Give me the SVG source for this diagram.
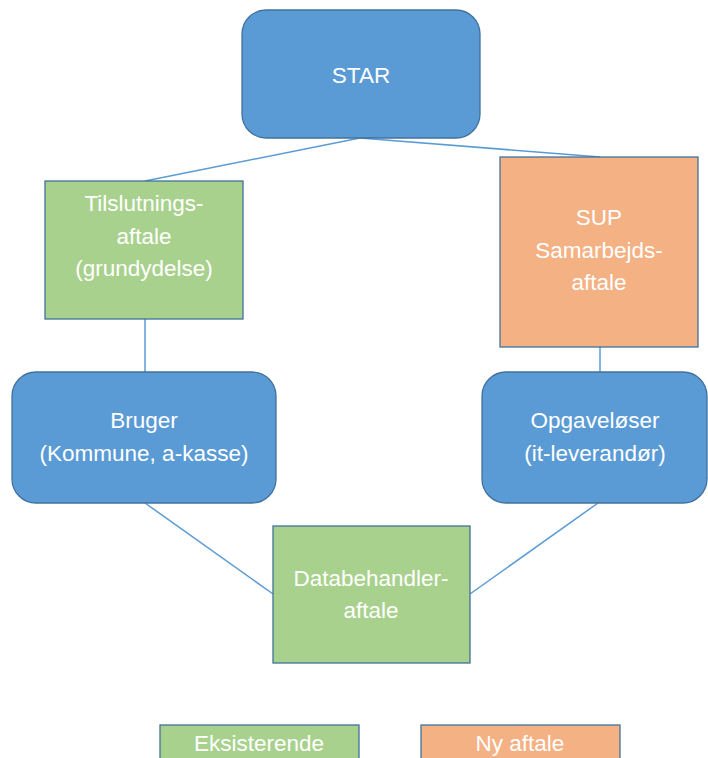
<svg xmlns="http://www.w3.org/2000/svg" width="708" height="758" viewBox="0 0 708 758">
<style>
.blue{fill:#5B9BD5;stroke:#41719C;stroke-width:1.3}
.green{fill:#A9D18E;stroke:#41719C;stroke-width:1.3}
.orange{fill:#F4B183;stroke:#41719C;stroke-width:1.3}
text{font-family:"Liberation Sans",Arial,sans-serif;font-size:22.5px;fill:#ffffff;text-anchor:middle}
.conn line{stroke:#5B9BD5;stroke-width:1.5}
</style>
<rect width="708" height="758" fill="#ffffff"/>
<g id="connectors" class="conn">
<line x1="360" y1="138" x2="145" y2="181"/>
<line x1="360" y1="138" x2="600" y2="157"/>
<line x1="145" y1="319" x2="145" y2="372"/>
<line x1="600" y1="347" x2="600" y2="372"/>
<line x1="145" y1="503" x2="273" y2="594"/>
<line x1="598" y1="503" x2="470" y2="594"/>
</g>
<g id="star">
<rect class="blue" x="242" y="10" width="238" height="128" rx="24"/>
<text x="361" y="83">STAR</text>
</g>
<g id="tilslutning">
<rect class="green" x="45" y="181" width="198" height="138"/>
<text x="144" y="211">Tilslutnings-</text>
<text x="144" y="244">aftale</text>
<text x="144" y="276">(grundydelse)</text>
</g>
<g id="sup">
<rect class="orange" x="500" y="157" width="198" height="190"/>
<text x="599" y="225">SUP</text>
<text x="599" y="258">Samarbejds-</text>
<text x="599" y="290">aftale</text>
</g>
<g id="bruger">
<rect class="blue" x="12" y="372" width="264" height="131" rx="24"/>
<text x="144" y="428">Bruger</text>
<text x="144" y="461">(Kommune, a-kasse)</text>
</g>
<g id="opgaveloser">
<rect class="blue" x="482" y="372" width="225" height="131" rx="24"/>
<text x="595" y="428">Opgaveløser</text>
<text x="595" y="461">(it-leverandør)</text>
</g>
<g id="databehandler">
<rect class="green" x="273" y="526" width="197" height="137"/>
<text x="371" y="586">Databehandler-</text>
<text x="371" y="618">aftale</text>
</g>
<g id="legend-eksisterende">
<rect class="green" x="160" y="725" width="199" height="45"/>
<text x="259" y="751">Eksisterende</text>
</g>
<g id="legend-ny">
<rect class="orange" x="421" y="725" width="199" height="45"/>
<text x="520" y="751">Ny aftale</text>
</g>
</svg>
